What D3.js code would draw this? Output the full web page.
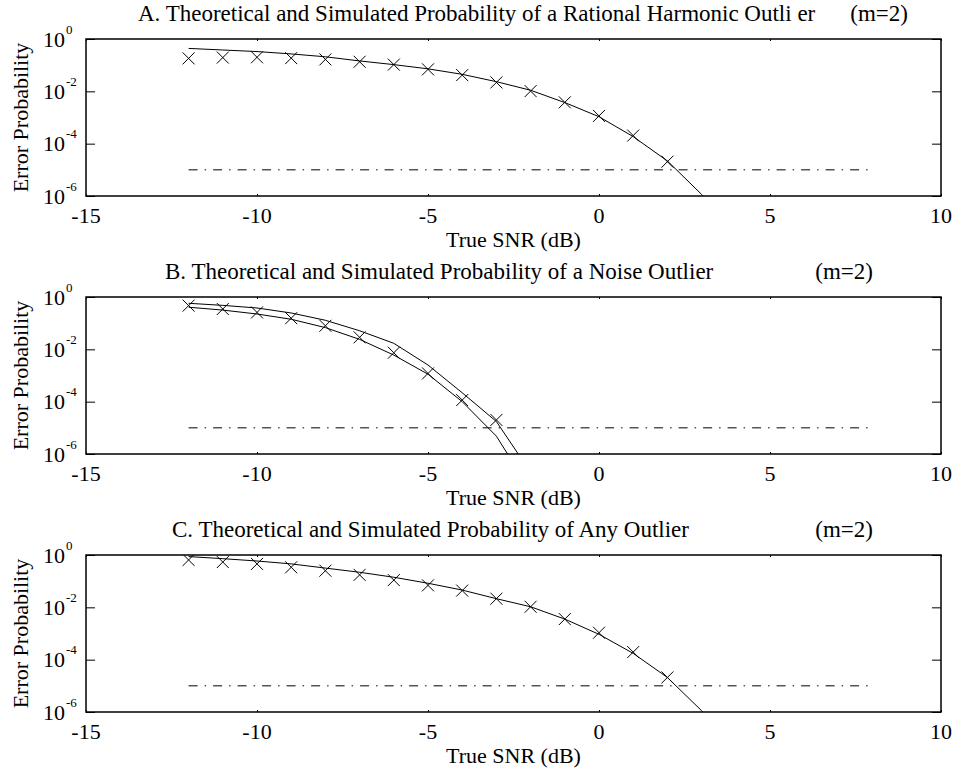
<!DOCTYPE html>
<html>
<head>
<meta charset="utf-8">
<script src="https://cdn.jsdelivr.net/npm/d3@7"></script>
<style>
  html, body { margin: 0; padding: 0; background: #fff; }
  svg { display: block; }
  text { font-family: "Liberation Serif", "Times New Roman", serif; fill: #000; }
</style>
</head>
<body>
<svg id="chart" width="958" height="773"></svg>
<script>
// ---------------- data ----------------
const xTicks = [-15, -10, -5, 0, 5, 10];
const yTickExps = [0, -2, -4, -6];
const titlesMain = [
  "A. Theoretical and Simulated Probability of a Rational Harmonic Outli er",
  "B. Theoretical and Simulated Probability of a Noise Outlier",
  "C. Theoretical and Simulated Probability of Any Outlier"
];
const titleTag = "(m=2)";
const xLabel = "True SNR (dB)";
const yLabel = "Error Probability";

// Panel A
const snrTheoryA = [-12,-11,-10,-9,-8,-7,-6,-5,-4,-3,-2,-1,0,1,2,3,4];
const theoryA = [0.437,0.380,0.331,0.269,0.209,0.145,0.105,0.0724,0.0447,0.0234,0.0110,0.00372,0.00107,1.86e-4,2.19e-5,1.15e-6,3.2e-8];
const snrSimA = [-12,-11,-10,-9,-8,-7,-6,-5,-4,-3,-2,-1,0,1,2];
const simA = [0.182,0.195,0.200,0.186,0.166,0.135,0.105,0.0692,0.0417,0.0219,0.0102,0.0038,0.00115,2.04e-4,2.04e-5];

// Panel B
const snrTheoryB = [-12,-11,-10,-9,-8,-7,-6,-5,-4,-3,-2];
const theoryB1 = [0.575,0.479,0.380,0.245,0.129,0.0513,0.0170,0.00251,2.19e-4,1.74e-5,2.0e-7];
const theoryB2 = [0.407,0.316,0.224,0.141,0.0676,0.024,0.00603,0.00112,1.0e-4,4.79e-6,4.0e-8];
const snrSimB = [-12,-11,-10,-9,-8,-7,-6,-5,-4,-3];
const simB = [0.468,0.347,0.257,0.155,0.0794,0.0288,0.00741,0.0012,1.15e-4,2.0e-5];

// Panel C
const snrTheoryC = [-12,-11,-10,-9,-8,-7,-6,-5,-4,-3,-2,-1,0,1,2,3,4];
const theoryC = [0.871,0.724,0.589,0.457,0.316,0.219,0.141,0.0832,0.0457,0.0214,0.0105,0.00355,9.3e-4,1.74e-4,2.09e-5,1.12e-6,3.2e-8];
const snrSimC = [-12,-11,-10,-9,-8,-7,-6,-5,-4,-3,-2,-1,0,1,2];
const simC = [0.646,0.537,0.457,0.339,0.251,0.174,0.110,0.0692,0.0437,0.0214,0.0105,0.00355,0.00107,1.95e-4,2.09e-5];

// threshold reference line
const thresholdSnr = [-12, 8];
const thresholdP = 1e-5;

// ---------------- drawing ----------------
const svg = d3.select("#chart");
const left = 86, right = 941, panelH = 157;
const panelTops = [39, 297, 555];
const titleMainX = [138, 165, 172];
const titleTagEndX = [908, 873, 873];

const panels = [
  { theory: [[snrTheoryA, theoryA]], sim: [snrSimA, simA] },
  { theory: [[snrTheoryB, theoryB1], [snrTheoryB, theoryB2]], sim: [snrSimB, simB] },
  { theory: [[snrTheoryC, theoryC]], sim: [snrSimC, simC] }
];

const x = d3.scaleLinear().domain([-15, 10]).range([left, right]);

panels.forEach((p, i) => {
  const top = panelTops[i], bottom = top + panelH;
  const y = d3.scaleLog().domain([1e-6, 1]).range([bottom, top]);
  const g = svg.append("g");

  const clipId = "clip" + i;
  svg.append("clipPath").attr("id", clipId)
    .append("rect").attr("x", left).attr("y", top).attr("width", right - left).attr("height", panelH);

  const plot = g.append("g").attr("clip-path", `url(#${clipId})`);
  const line = d3.line().x(d => x(d[0])).y(d => y(d[1]));

  // threshold dash-dot line
  plot.append("path")
    .attr("d", line(thresholdSnr.map(s => [s, thresholdP])))
    .attr("fill", "none").attr("stroke", "#000").attr("stroke-width", 1)
    .attr("stroke-dasharray", "9,7,1.5,7");

  // theory curves
  p.theory.forEach(([xs, ys]) => {
    plot.append("path")
      .attr("d", line(xs.map((s, k) => [s, ys[k]])))
      .attr("fill", "none").attr("stroke", "#000").attr("stroke-width", 1);
  });

  // simulated markers (x)
  const [sx, sy] = p.sim;
  const ms = 6;
  plot.selectAll("path.mk").data(sx.map((s, k) => [s, sy[k]])).enter()
    .append("path").attr("class", "mk")
    .attr("d", d => {
      const cx = x(d[0]), cy = y(d[1]);
      return `M${cx - ms},${cy - ms}L${cx + ms},${cy + ms}M${cx - ms},${cy + ms}L${cx + ms},${cy - ms}`;
    })
    .attr("stroke", "#000").attr("stroke-width", 1).attr("fill", "none");

  // axes (inward ticks)
  const yTickVals = yTickExps.map(e => Math.pow(10, e));
  g.append("g").attr("transform", `translate(${left},0)`)
    .call(d3.axisRight(y).tickValues(yTickVals).tickSize(9).tickFormat(""))
    .call(a => a.select(".domain").remove());
  g.append("g").attr("transform", `translate(${right},0)`)
    .call(d3.axisLeft(y).tickValues(yTickVals).tickSize(9).tickFormat(""))
    .call(a => a.select(".domain").remove());
  g.append("g").attr("transform", `translate(0,${bottom})`)
    .call(d3.axisTop(x).tickValues(xTicks).tickSize(2).tickFormat(""))
    .call(a => a.select(".domain").remove());
  g.append("g").attr("transform", `translate(0,${top})`)
    .call(d3.axisBottom(x).tickValues(xTicks).tickSize(2).tickFormat(""))
    .call(a => a.select(".domain").remove());

  // frame
  g.append("rect").attr("x", left).attr("y", top).attr("width", right - left).attr("height", panelH)
    .attr("fill", "none").attr("stroke", "#000").attr("stroke-width", 1.5);

  // x tick labels
  g.selectAll("text.xt").data(xTicks).enter().append("text")
    .attr("x", d => x(d)).attr("y", bottom + 26.5)
    .attr("text-anchor", "middle").style("font-size", "22px")
    .text(d => String(d));

  // y tick labels 10^e
  yTickExps.forEach(e => {
    const ty = y(Math.pow(10, e));
    g.append("text").attr("x", 43).attr("y", ty + 7.5).style("font-size", "22px").text("10");
    g.append("text").attr("x", 66).attr("y", ty - 5.5).style("font-size", "13px").text(String(e));
  });

  // axis labels
  g.append("text").attr("x", (left + right) / 2).attr("y", bottom + 51)
    .attr("text-anchor", "middle").style("font-size", "22px").text(xLabel);
  g.append("text").attr("transform", `translate(28,${(top + bottom) / 2}) rotate(-90)`)
    .attr("text-anchor", "middle").style("font-size", "22px").text(yLabel);

  // title
  g.append("text").attr("x", titleMainX[i]).attr("y", top - 18)
    .style("font-size", "23px").text(titlesMain[i]);
  g.append("text").attr("x", titleTagEndX[i]).attr("y", top - 18)
    .attr("text-anchor", "end").style("font-size", "23px").text(titleTag);
});
</script>
</body>
</html>
